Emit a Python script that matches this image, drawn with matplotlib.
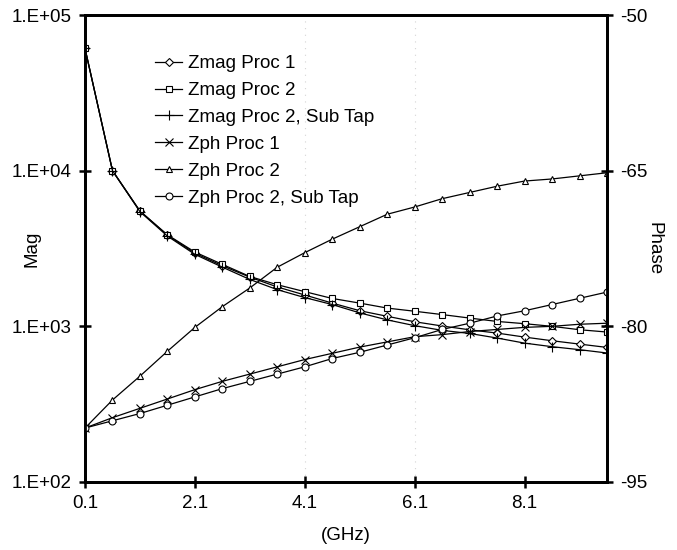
import numpy as np
import matplotlib
matplotlib.use("Agg")
import matplotlib.pyplot as plt
from matplotlib.ticker import FixedLocator, NullLocator

plt.rcParams['font.family'] = ['Liberation Sans', 'DejaVu Sans']

# frecuencias (GHz)
freq = [0.1, 0.6, 1.1, 1.6, 2.1, 2.6, 3.1, 3.6, 4.1, 4.6,
        5.1, 5.6, 6.1, 6.6, 7.1, 7.6, 8.1, 8.6, 9.1, 9.6]

# magnitudes (eje izquierdo, log)
zmag_p1 = [61000, 10000, 5500, 3850, 2950, 2450, 2070, 1790, 1590, 1410,
           1260, 1160, 1070, 1005, 950, 905, 853, 808, 769, 732]
zmag_p2 = [61000, 10000, 5500, 3870, 3000, 2500, 2090, 1850, 1670, 1510,
           1410, 1310, 1250, 1190, 1130, 1075, 1040, 1000, 951, 919]
zmag_p2_sub = [61000, 10000, 5450, 3800, 2900, 2400, 2000, 1720, 1530, 1380,
               1220, 1100, 1010, 942, 900, 841, 780, 740, 708, 674]

# fases (eje derecho)
zph_p1 = [-89.8, -88.8, -87.9, -87.0, -86.1, -85.3, -84.6, -83.9, -83.2, -82.6,
          -82.0, -81.5, -81.0, -80.8, -80.5, -80.3, -80.1, -80.0, -79.8, -79.7]
zph_p2 = [-89.8, -87.1, -84.8, -82.4, -80.1, -78.1, -76.3, -74.3, -72.9, -71.6,
          -70.4, -69.2, -68.5, -67.7, -67.1, -66.5, -66.0, -65.8, -65.5, -65.2]
zph_p2_sub = [-89.8, -89.1, -88.4, -87.6, -86.8, -86.0, -85.3, -84.6, -83.9, -83.1,
              -82.5, -81.8, -81.1, -80.3, -79.7, -79.0, -78.5, -77.9, -77.3, -76.7]

x_ticks = [0.1, 2.1, 4.1, 6.1, 8.1]
mag_ticks = [1e2, 1e3, 1e4, 1e5]
mag_labels = ['1.E+02', '1.E+03', '1.E+04', '1.E+05']
phase_ticks = [-95, -80, -65, -50]

fs = 13.5

fig = plt.figure(figsize=(6.77, 5.5), dpi=100)
ax = fig.add_axes([85/677, 68/550, 522/677, 467/550])
ax2 = ax.twinx()

estilo = dict(color='black', lw=0.9, ms=5, mfc='white', mec='black', mew=0.8)

h1, = ax.plot(freq, zmag_p1, marker='D', label='Zmag Proc 1', **{**estilo, 'ms': 4.2})
h2, = ax.plot(freq, zmag_p2, marker='s', label='Zmag Proc 2', **estilo)
h3, = ax.plot(freq, zmag_p2_sub, marker='+', label='Zmag Proc 2, Sub Tap', **{**estilo, 'ms': 7})
h4, = ax2.plot(freq, zph_p1, marker='x', label='Zph Proc 1', **{**estilo, 'ms': 6})
h5, = ax2.plot(freq, zph_p2, marker='^', label='Zph Proc 2', **estilo)
h6, = ax2.plot(freq, zph_p2_sub, marker='o', label='Zph Proc 2, Sub Tap', **estilo)

# lineas de guia tenues
for xv in [4.1, 6.1]:
    ax.axvline(xv, color='#d4d4d4', lw=0.8, ls=(0, (1, 5)), zorder=0)

ax.set_yscale('log')
ax.set_ylim(1e2, 1e5)
ax.set_xlim(0.1, 9.6)
ax.yaxis.set_major_locator(FixedLocator(mag_ticks))
ax.yaxis.set_minor_locator(NullLocator())
ax.set_yticklabels(mag_labels)
ax.set_xticks(x_ticks)
ax.set_xticklabels([str(v) for v in x_ticks])

ax2.set_ylim(-95, -50)
ax2.set_yticks(phase_ticks)
ax2.set_yticklabels([str(v) for v in phase_ticks])

for a in [ax, ax2]:
    for s in a.spines.values():
        s.set_linewidth(2.0)
    a.tick_params(direction='inout', length=9, width=1.8, labelsize=fs, pad=5)

ax.set_xlabel('(GHz)', fontsize=fs, labelpad=11)
ax.set_ylabel('Mag', fontsize=fs, va='center')
ax.yaxis.set_label_coords(-0.102, 0.5)
ax2.set_ylabel('Phase', fontsize=fs, rotation=270, va='center')
ax2.yaxis.set_label_coords(1.09, 0.5)

ax2.legend(handles=[h1, h2, h3, h4, h5, h6], loc='upper left',
           bbox_to_anchor=(0.134, 0.914), frameon=False, fontsize=fs,
           borderpad=0, borderaxespad=0, handlelength=1.45, handletextpad=0.3,
           labelspacing=0.52)

fig.savefig('out.png', dpi=100)
